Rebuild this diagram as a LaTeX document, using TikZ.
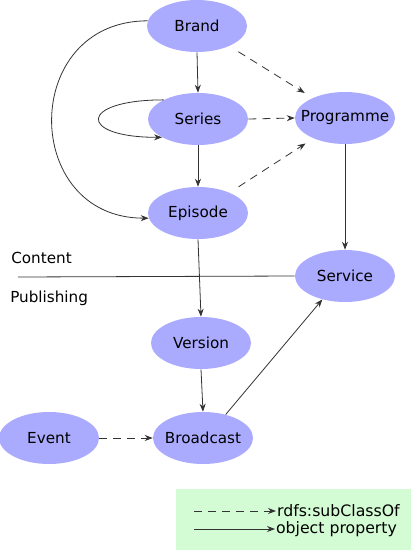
\documentclass[tikz,border=0pt]{standalone}
\usepackage{fontspec}
\setmainfont{DejaVu Sans}
\usetikzlibrary{shapes.geometric,arrows.meta}
\definecolor{nodefill}{HTML}{AAAAFF}
\definecolor{legendfill}{HTML}{D4FCD4}
\definecolor{edgecol}{HTML}{333333}
\newcommand{\clab}[1]{\makebox[0pt]{#1}}
\begin{document}
\begin{tikzpicture}[x=0.75pt,y=-0.75pt,
  font=\fontsize{11.4}{13}\selectfont,
  cls/.style={ellipse,fill=nodefill,draw=none,minimum width=75pt,minimum height=39pt,inner sep=0pt},
  rel/.style={draw=edgecol,line width=0.6pt,-{Stealth[length=6pt,width=4.5pt]}},
  sub/.style={rel,dash pattern=on 6pt off 4.5pt},
  lbl/.style={anchor=west,inner sep=0pt},
  leg/.style={anchor=west,inner ysep=0pt,inner xsep=0.6pt,font=\fontsize{11.8}{14}\selectfont}]
\useasboundingbox (0,0) rectangle (411,550);
% legend box
\fill[legendfill] (176,489) rectangle (411,550);
% nodes
\node[cls] (brand) at (197,26) {\clab{Brand}};
\node[cls] (series) at (198,119) {\clab{Series}};
\node[cls] (programme) at (345,118) {\clab{Programme}};
\node[cls] (episode) at (198,213) {\clab{Episode}};
\node[cls] (service) at (345,276) {\clab{Service}};
\node[cls] (version) at (201,343) {\clab{Version}};
\node[cls] (event) at (49,438) {\clab{Event}};
\node[cls] (broadcast) at (203,438) {\clab{Broadcast}};
% content / publishing
\node[lbl] (content) at (11,258) {Content};
\node[lbl] (publishing) at (10,298) {Publishing};
\coordinate (divstart) at (18,277);
\draw[draw=edgecol,line width=0.6pt] (divstart) -- (service.west);
% object properties
\draw[rel] (brand.south) -- (series.north);
\draw[rel] (series.south) -- (episode.north);
\draw[rel] (brand.174) .. controls +(-128,0) and +(-128,0) .. (episode.186);
\draw[rel] (series.151) .. controls +(-85,0) and +(-85,0) .. (series.207);
\draw[rel] (programme.south) -- (service.north);
\draw[rel] (episode.south) -- (version.north);
\draw[rel] (version.south) -- (broadcast.north);
\draw[rel] (broadcast.46) -- (service.226);
% subclass
\draw[sub,shorten <=8pt,shorten >=7pt] (brand) -- (programme);
\draw[sub,shorten <=8pt,shorten >=7pt] (episode) -- (programme);
\draw[sub] (series.east) -- (programme.west);
\draw[sub] (event.east) -- (broadcast.west);
% legend
\node[leg] (lsub) at (276,511) {rdfs:subClassOf};
\node[leg] (lobj) at (275,529) {object property};
\coordinate (lsubstart) at (194,511);
\coordinate (lobjstart) at (194,529);
\draw[sub] (lsubstart) -- (lsub.west);
\draw[rel] (lobjstart) -- (lobj.west);
\end{tikzpicture}
\end{document}
